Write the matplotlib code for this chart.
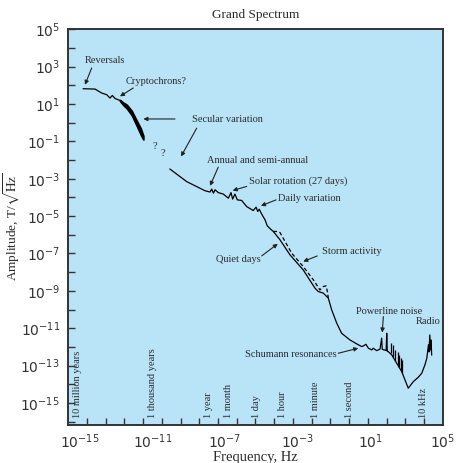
import numpy as np
import matplotlib
matplotlib.use("Agg")
import matplotlib.pyplot as plt
from matplotlib.ticker import FixedLocator, FuncFormatter, NullLocator

# ---------------- data (log10 values) ----------------
# low-frequency part (reversals / cryptochrons)
low_logf = [-14.20, -13.57, -13.22, -12.95, -12.77, -12.65, -12.51, -12.24]
low_loga = [1.82, 1.80, 1.59, 1.50, 1.32, 1.46, 1.30, 1.19]

# secular variation band
sec_logf = [-12.24, -12.05, -11.88, -11.61, -11.35, -11.13, -10.99]
sec_upper = [1.22, 1.07, 0.97, 0.64, 0.12, -0.30, -0.70]
sec_lower = [1.16, 0.93, 0.77, 0.40, -0.16, -0.64, -0.90]

# main spectrum (quiet days) from ~decade periods up to radio
main_logf = [-9.57, -8.68, -7.70, -7.43, -7.34, -7.25, -7.16, -6.99, -6.72, -6.45,
             -6.31, -6.22, -6.10, -5.97, -5.74, -5.47, -5.12, -4.97, -4.88, -4.80,
             -4.67, -4.49, -4.37, -4.19, -4.05, -3.69, -3.16, -2.45, -1.82, -1.64,
             -1.38, -1.11, -0.93, -0.66, -0.40, 0.05, 0.41, 0.67, 0.76, 0.90,
             1.03, 1.21, 1.29, 1.47, 1.65, 1.74, 1.77, 1.98, 2.01, 2.04,
             2.09, 2.28, 2.54, 2.81, 3.16, 3.43, 3.70, 3.88, 4.05, 4.15,
             4.24, 4.27, 4.31, 4.35, 4.38, 4.41]
main_loga = [-2.48, -3.15, -3.64, -3.71, -3.55, -3.77, -3.59, -3.74, -3.82, -4.04,
             -3.74, -4.09, -3.82, -4.13, -4.16, -4.49, -4.70, -4.52, -4.75, -4.63,
             -4.89, -5.20, -5.52, -5.70, -5.82, -6.27, -7.07, -7.88, -8.86, -9.04,
             -9.12, -9.39, -10.02, -10.73, -11.27, -11.63, -11.84, -11.98, -11.95, -11.86,
             -12.07, -12.16, -12.07, -12.20, -12.12, -11.53, -12.13, -12.19, -11.27, -12.24,
             -12.25, -12.43, -12.87, -13.32, -14.21, -13.86, -13.62, -13.41, -12.96, -12.61,
             -11.89, -12.27, -11.36, -12.16, -11.63, -12.43]

# storm activity (dashed)
storm_logf = [-4.05, -3.87, -3.69, -3.42, -3.07, -2.45, -1.91, -1.56, -1.38, -1.23, -1.16, -1.11]
storm_loga = [-5.82, -5.82, -5.88, -6.36, -6.98, -7.70, -8.41, -8.95, -8.77, -8.73, -9.04, -9.39]

# spikes on the high-frequency descent
spike_logf = [2.22, 2.32, 2.45, 2.59, 2.67, 2.75, 2.83]
spike_top = [-11.79, -11.89, -12.16, -12.27, -12.43, -12.59, -12.70]
spike_base = [-12.34, -12.54, -12.75, -12.96, -13.10, -13.23, -13.37]

# period labels along the bottom
period_names = ['10 million years', '1 thousand years', '1 year', '1 month', '1 day',
                '1 hour', '1 minute', '1 second', '10 kHz']
period_freq = [3.17e-15, 3.17e-11, 3.17e-8, 3.8e-7, 1.157e-5, 2.78e-4, 1.67e-2, 1.0, 1e4]

# annotations: text, text position (log f, log a)
notes = [
    ('Reversals', (-13.04, 3.33)),
    ('Cryptochrons?', (-10.32, 2.18)),
    ('Secular variation', (-6.52, 0.16)),
    ('?', (-10.37, -1.27)),
    ('?', (-9.96, -1.66)),
    ('Annual and semi-annual', (-4.89, -2.02)),
    ('Solar rotation (27 days)', (-2.73, -3.15)),
    ('Daily variation', (-2.10, -4.04)),
    ('Storm activity', (0.16, -6.90)),
    ('Quiet days', (-5.92, -7.34)),
    ('Powerline noise', (2.13, -10.11)),
    ('Radio', (4.20, -10.65)),
    ('Schumann resonances', (-3.11, -12.43)),
]
# arrows: tail (log f, log a), head (log f, log a)
arrows = [
    ((-13.75, 2.93), (-14.11, 2.03)),
    ((-11.53, 1.86), (-12.24, 1.41)),
    ((-9.30, 0.20), (-10.99, 0.20)),
    ((-8.14, -0.29), (-8.98, -1.81)),
    ((-6.99, -2.38), (-7.43, -3.38)),
    ((-5.47, -3.41), (-6.22, -3.63)),
    ((-3.90, -4.13), (-4.71, -4.45)),
    ((-1.70, -7.13), (-2.45, -7.43)),
    ((-4.67, -7.13), (-3.81, -6.48)),
    ((1.83, -10.38), (1.77, -11.23)),
    ((-0.58, -12.34), (0.49, -12.07)),
]

x_ticklabel_exp = [-15, -11, -7, -3, 1, 5]

# ---------------- figure ----------------
SERIF = ['Liberation Serif', 'DejaVu Serif']
TXT = '#2b2b2b'
fig = plt.figure(figsize=(4.59, 4.63), dpi=100)
ax = fig.add_axes([68.3 / 459, 1 - 425 / 463, (442.7 - 68.3) / 459, (425 - 29.3) / 463])
ax.set_facecolor('#b9e3f7')
ax.set_xscale('log')
ax.set_yscale('log')
ax.set_xlim(1e-15, 1e5)
ax.set_ylim(10 ** -16.18, 1e5)

p = lambda v: 10 ** np.asarray(v, dtype=float)

ax.plot(p(low_logf), p(low_loga), color='black', lw=0.9)
ax.fill_between(p(sec_logf), p(sec_lower), p(sec_upper), color='black', lw=1.2, edgecolor='black')
ax.plot(p(main_logf), p(main_loga), color='black', lw=0.9)
ax.plot(p(storm_logf), p(storm_loga), color='black', lw=0.9, dashes=(3, 2))
ax.vlines(p(spike_logf), p(spike_base), p(spike_top), color='black', lw=0.9)

for txt, (lx, ly) in notes:
    ax.text(p(lx), p(ly), txt, fontsize=7.5, family=SERIF, color=TXT, ha='center', va='center')
for (tx, ty), (hx, hy) in arrows:
    ax.annotate('', xy=(p(hx), p(hy)), xytext=(p(tx), p(ty)),
                arrowprops=dict(arrowstyle='-|>', lw=0.8, color='#222222',
                                mutation_scale=6, shrinkA=0, shrinkB=0))

for name, f in zip(period_names, period_freq):
    ax.text(f, 0.018, name, transform=ax.get_xaxis_transform(), rotation=90,
            ha='center', va='bottom', fontsize=7.5, family=SERIF, color=TXT)

# inward decade ticks
ax.xaxis.set_major_locator(FixedLocator([10.0 ** k for k in range(-14, 5)]))
ax.xaxis.set_minor_locator(NullLocator())
ax.xaxis.set_major_formatter(FuncFormatter(lambda v, pos: ''))
ax.yaxis.set_major_locator(FixedLocator([10.0 ** k for k in range(-16, 6)]))
ax.yaxis.set_minor_locator(NullLocator())


def yfmt(v, pos):
    e = int(round(np.log10(v)))
    return r'$10^{%d}$' % e if e % 2 != 0 else ''


ax.yaxis.set_major_formatter(FuncFormatter(yfmt))
ax.tick_params(axis='both', which='major', direction='in', length=5, width=1,
               color='#333333', labelsize=10, labelcolor='#333333', pad=6)
for s in ax.spines.values():
    s.set_linewidth(1.4)
    s.set_color('#333333')

# tick labels of the frequency axis
axl = ax.twiny()
axl.set_xscale('log')
axl.set_xlim(10 ** -15.645, 1e5)
axl.xaxis.set_ticks_position('bottom')
axl.xaxis.set_label_position('bottom')
axl.xaxis.set_major_locator(FixedLocator([10.0 ** e for e in x_ticklabel_exp]))
axl.xaxis.set_minor_locator(NullLocator())
axl.xaxis.set_major_formatter(FuncFormatter(lambda v, pos: r'$10^{%d}$' % int(round(np.log10(v)))))
axl.tick_params(axis='x', length=0, labelsize=10, labelcolor='#333333', pad=5)
axl.patch.set_visible(False)
for s in axl.spines.values():
    s.set_visible(False)
axl.set_xlabel('Frequency, Hz', family=SERIF, fontsize=10.5, color=TXT, labelpad=0)

ax.set_ylabel(r'Amplitude, T/$\sqrt{\mathrm{Hz}}$', family=SERIF, math_fontfamily='stix',
              fontsize=9.5, color=TXT)
ax.yaxis.set_label_coords(-0.124, 0.5)
ax.set_title('Grand Spectrum', family=SERIF, fontsize=9.5, color=TXT, pad=8)

fig.savefig('out.png', dpi=100)
